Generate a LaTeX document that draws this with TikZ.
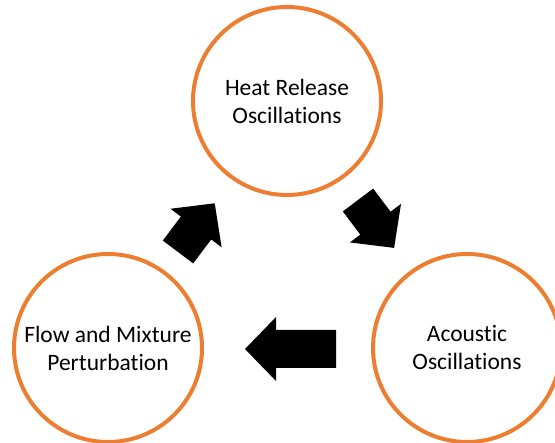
\documentclass[tikz,border=0pt]{standalone}
\usepackage{fontspec}
\setmainfont{Carlito}[Ligatures=NoCommon]
\definecolor{cycleorange}{HTML}{ED7D31}
\tikzset{
  cyclebox/.style={circle, draw=cycleorange, line width=4pt, minimum size=188pt,
    inner sep=0pt, align=center, font=\fontsize{23.5}{28}\selectfont},
  pics/fatarrow/.style={code={
    \fill[black] (0,-19) -- ({#1-31},-19) -- ({#1-31},-32) -- (#1,0)
      -- ({#1-31},32) -- ({#1-31},19) -- (0,19) -- cycle;
  }}
}
\begin{document}
\begin{tikzpicture}[x=1pt, y=1pt]
	\useasboundingbox (0,0) rectangle (555,443);
	\clip (0,0) rectangle (555,443);
	
	% the three stages of the loop
	\node[cyclebox] (heat) at (287,342) {Heat Release\\Oscillations};
	\node[cyclebox] (acoustic) at (467,95) {Acoustic\\Oscillations};
	\node[cyclebox] (flow) at (108,95) {Flow and Mixture\\Perturbation};
	
	% block arrows between the stages
	\pic[rotate=-53] at (358,243) {fatarrow=60};
	\pic[rotate=180] at (336,94) {fatarrow=91};
	\pic[rotate=53] at (178,191) {fatarrow=61};
\end{tikzpicture}
\end{document}
